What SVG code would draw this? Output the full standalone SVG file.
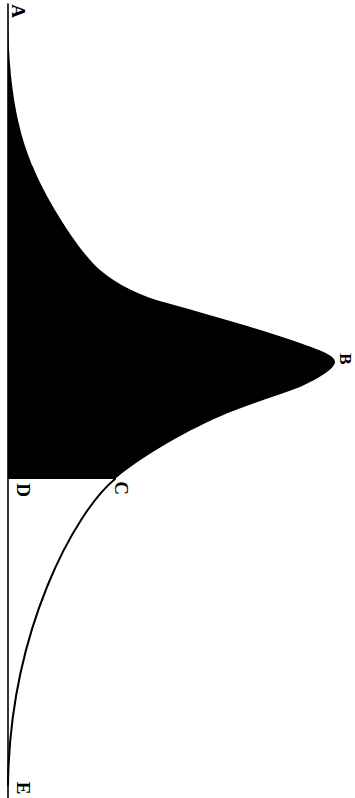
<svg xmlns="http://www.w3.org/2000/svg" width="355" height="798" viewBox="0 0 355 798">
<style>
.lbl{font-family:"Liberation Serif","DejaVu Serif",serif;font-size:19px;font-weight:bold;fill:#000;text-anchor:middle}
.ln{fill:none;stroke:#000;stroke-linecap:round;stroke-linejoin:round}
</style>
<rect width="355" height="798" fill="#fff"/>
<g id="area">
<path d="M8,8 C8,100 22,140 33,167 C45,197 78,251 100,270 C117,284.5 140,296 167,303 C210,315 260,329 300,343 C318,349.5 335,355 335,362 C335,368 320,378 300,387 C280,395 255,402 233,411 C200,424 150,450 115,479 L8,479 Z" fill="#000"/>
</g>
<g id="connectors">
<line id="baseline" class="ln" x1="8" y1="4" x2="8" y2="798" stroke-width="1.6"/>
<path id="tail" class="ln" stroke-width="2" d="M115,479 C75,512 10,630 8,785"/>
</g>
<g id="label-A"><text class="lbl" transform="translate(12,11) rotate(90)">A</text></g>
<g id="label-B"><text class="lbl" style="font-size:17px" transform="translate(340,359) rotate(90)">B</text></g>
<g id="label-C"><text class="lbl" transform="translate(115,488) rotate(90)">C</text></g>
<g id="label-D"><text class="lbl" transform="translate(17,490) rotate(90)">D</text></g>
<g id="label-E"><text class="lbl" transform="translate(17,788) rotate(90)">E</text></g>
</svg>
